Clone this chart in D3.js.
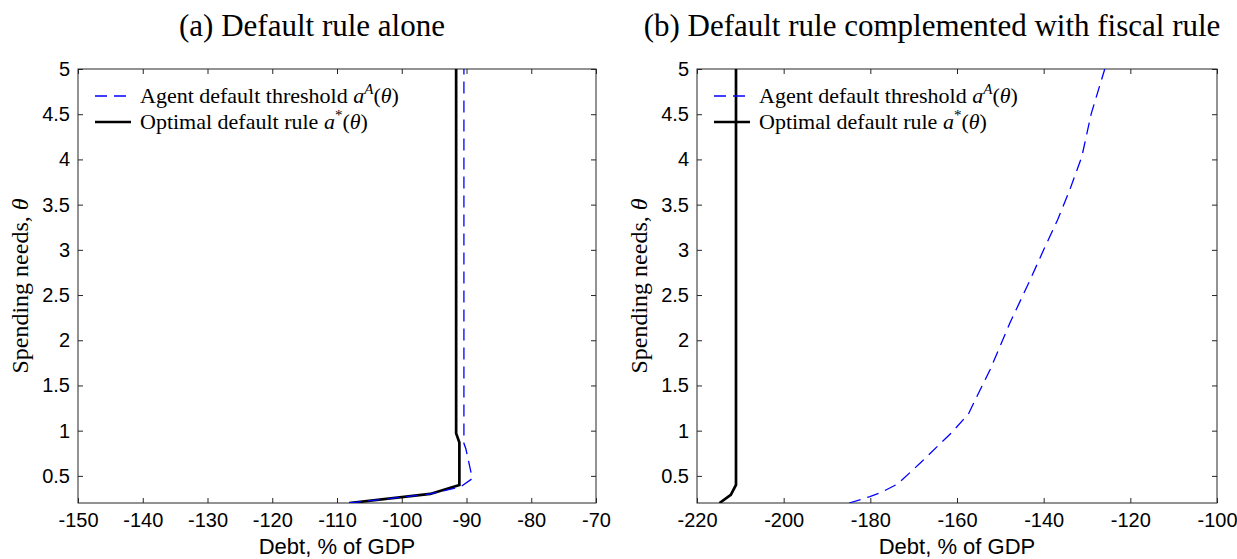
<!DOCTYPE html>
<html>
<head>
<meta charset="utf-8">
<script src="https://cdn.jsdelivr.net/npm/d3@7"></script>
<style>
  body { margin: 0; background: #fff; }
</style>
</head>
<body>
<div id="chart"></div>
<script>
// panel (a): default rule alone
const thetaAgentA = [0.2, 0.3, 0.38, 0.47, 0.8, 0.86, 5];
const debtAgentA  = [-108.1, -95.6, -90.9, -89.1, -90.1, -90.4, -90.4];
const thetaOptA   = [0.2, 0.3, 0.4, 0.87, 0.97, 5];
const debtOptA    = [-108.1, -95.6, -91.1, -91.1, -91.6, -91.6];

// panel (b): default rule complemented with fiscal rule
const thetaAgentB = [0.2, 0.27, 0.32, 0.41, 0.65, 0.99, 1.19, 1.34, 1.67, 2.19, 2.67, 3.0, 3.33, 3.66, 4.03, 4.51, 5];
const debtAgentB  = [-184.9, -180.1, -177.4, -173.7, -168.3, -161.0, -157.3, -155.8, -152.4, -147.8, -143.1, -140.0, -136.8, -134.0, -131.2, -129.0, -125.9];
const thetaOptB   = [0.2, 0.29, 0.4, 5];
const debtOptB    = [-214.8, -212.2, -211.0, -211.0];

const xTicksA = [-150, -140, -130, -120, -110, -100, -90, -80, -70];
const xTicksB = [-220, -200, -180, -160, -140, -120, -100];
const yTicks  = [0.5, 1, 1.5, 2, 2.5, 3, 3.5, 4, 4.5, 5];

const titles = ["(a) Default rule alone", "(b) Default rule complemented with fiscal rule"];
const xLabel = "Debt, % of GDP";
const yLabel = "Spending needs, ";

const W = 1237, H = 559;
const plotTop = 69, plotBottom = 503;
const axisColor = "#262626";
const serif = "'Liberation Serif', 'DejaVu Serif', serif";
const sans = "'Liberation Sans', Arial, sans-serif";

const svg = d3.select("#chart").append("svg")
    .attr("width", W)
    .attr("height", H);

const panels = [
  { left: 78, right: 596, domain: [-150, -70], xTicks: xTicksA, title: titles[0],
    agent: d3.zip(debtAgentA, thetaAgentA), opt: d3.zip(debtOptA, thetaOptA) },
  { left: 697, right: 1217, domain: [-220, -100], xTicks: xTicksB, title: titles[1],
    agent: d3.zip(debtAgentB, thetaAgentB), opt: d3.zip(debtOptB, thetaOptB) }
];

function mathLabel(sel, sup) {
  sel.append("tspan").attr("font-style", "italic").text("a");
  sel.append("tspan").attr("font-size", 15).attr("dy", -9)
      .attr("font-style", sup === "A" ? "italic" : "normal").text(sup);
  sel.append("tspan").attr("dy", 9).text("(");
  sel.append("tspan").attr("font-style", "italic").text("θ");
  sel.append("tspan").text(")");
}

panels.forEach(p => {
  const x = d3.scaleLinear().domain(p.domain).range([p.left, p.right]);
  const y = d3.scaleLinear().domain([0.2, 5]).range([plotBottom, plotTop]);
  const g = svg.append("g");

  // title (sits a little left of the plot centre, over axis + label block)
  g.append("text")
      .attr("x", (p.left + p.right) / 2 - 25)
      .attr("y", 36)
      .attr("text-anchor", "middle")
      .attr("font-family", serif)
      .attr("font-size", 31)
      .text(p.title);

  // axes with inward ticks
  const styleAxis = a => {
    a.select(".domain").remove();
    a.selectAll(".tick line").attr("stroke", axisColor);
    a.selectAll(".tick text").attr("font-family", sans).attr("font-size", 20).attr("fill", "#000");
  };
  g.append("g").attr("transform", `translate(0,${plotBottom})`)
      .call(d3.axisBottom(x).tickValues(p.xTicks).tickSize(-5).tickPadding(10).tickFormat(d => String(d)))
      .call(styleAxis);
  g.append("g").attr("transform", `translate(0,${plotTop})`)
      .call(d3.axisTop(x).tickValues(p.xTicks).tickSize(-5).tickFormat(""))
      .call(styleAxis);
  g.append("g").attr("transform", `translate(${p.left},0)`)
      .call(d3.axisLeft(y).tickValues(yTicks).tickSize(-5).tickPadding(8).tickFormat(d => String(d)))
      .call(styleAxis);
  g.append("g").attr("transform", `translate(${p.right},0)`)
      .call(d3.axisRight(y).tickValues(yTicks).tickSize(-5).tickFormat(""))
      .call(styleAxis);

  g.append("rect")
      .attr("x", p.left).attr("y", plotTop)
      .attr("width", p.right - p.left).attr("height", plotBottom - plotTop)
      .attr("fill", "none").attr("stroke", axisColor).attr("stroke-width", 1);

  // axis labels
  g.append("text")
      .attr("x", (p.left + p.right) / 2)
      .attr("y", 554)
      .attr("text-anchor", "middle")
      .attr("font-family", sans)
      .attr("font-size", 22)
      .text(xLabel);

  const yl = g.append("text")
      .attr("transform", `translate(${p.left - 50},${(plotTop + plotBottom) / 2}) rotate(-90)`)
      .attr("text-anchor", "middle")
      .attr("font-family", serif)
      .attr("font-size", 24);
  yl.append("tspan").text(yLabel);
  yl.append("tspan").attr("font-style", "italic").text("θ");

  // lines
  const line = d3.line().x(d => x(d[0])).y(d => y(d[1]));
  const clipId = "clip" + p.left;
  g.append("clipPath").attr("id", clipId).append("rect")
      .attr("x", p.left).attr("y", plotTop).attr("width", p.right - p.left).attr("height", plotBottom - plotTop);

  g.append("path").datum(p.opt)
      .attr("clip-path", `url(#${clipId})`)
      .attr("d", line)
      .attr("fill", "none")
      .attr("stroke", "#000")
      .attr("stroke-width", 2.7);

  g.append("path").datum(p.agent)
      .attr("clip-path", `url(#${clipId})`)
      .attr("d", line)
      .attr("fill", "none")
      .attr("stroke", "#0000ff")
      .attr("stroke-width", 1.3)
      .attr("stroke-dasharray", "12,7");

  // legend
  const lx = p.left + 17;
  const rows = [
    { y: 96, stroke: "#0000ff", width: 1.3, dash: "12,7", text: "Agent default threshold ", sup: "A" },
    { y: 122, stroke: "#000", width: 2.7, dash: null, text: "Optimal default rule ", sup: "*" }
  ];
  rows.forEach(r => {
    g.append("line")
        .attr("x1", lx).attr("x2", lx + 36)
        .attr("y1", r.y).attr("y2", r.y)
        .attr("stroke", r.stroke)
        .attr("stroke-width", r.width)
        .attr("stroke-dasharray", r.dash);
    const t = g.append("text")
        .attr("x", lx + 45)
        .attr("y", r.y + 7)
        .attr("font-family", serif)
        .attr("font-size", 22);
    t.append("tspan").text(r.text);
    mathLabel(t, r.sup);
  });
});
</script>
</body>
</html>
